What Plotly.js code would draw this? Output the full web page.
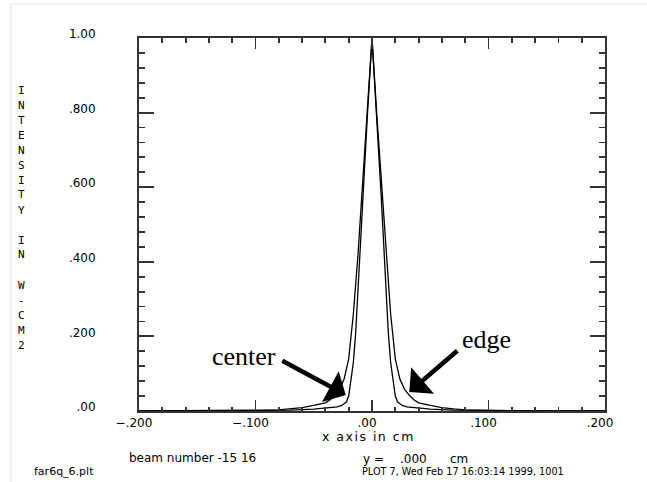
<!DOCTYPE html>
<html>
<head>
<meta charset="utf-8">
<script src="https://cdn.plot.ly/plotly-3.0.1.min.js"></script>
<style>
html,body{margin:0;padding:0;background:#fff;}
#chart{width:647px;height:482px;}
</style>
</head>
<body>
<div id="chart"></div>
<script>
// ---- data ----
const xEdge = [-0.200,-0.150,-0.120,-0.100,-0.080,-0.070,-0.060,-0.050,-0.040,-0.036,-0.032,-0.028,-0.024,-0.020,-0.016,-0.012,-0.008,-0.004,0.000,0.004,0.008,0.012,0.016,0.020,0.024,0.028,0.032,0.036,0.040,0.050,0.060,0.070,0.080,0.100,0.120,0.150,0.200];
const yEdge = [0.0001,0.0003,0.0008,0.0015,0.0032,0.0055,0.009,0.015,0.022,0.030,0.042,0.058,0.085,0.14,0.26,0.42,0.61,0.80,1.00,0.80,0.61,0.42,0.26,0.14,0.085,0.058,0.042,0.030,0.022,0.015,0.009,0.0055,0.0032,0.0015,0.0008,0.0003,0.0001];

const xCenter = [-0.200,-0.150,-0.100,-0.070,-0.050,-0.040,-0.030,-0.026,-0.022,-0.020,-0.018,-0.016,-0.014,-0.012,-0.008,-0.004,0.000,0.004,0.008,0.012,0.014,0.016,0.018,0.020,0.022,0.026,0.030,0.040,0.050,0.070,0.100,0.150,0.200];
const yCenter = [0.0001,0.0004,0.001,0.0025,0.005,0.007,0.011,0.015,0.024,0.04,0.08,0.13,0.21,0.33,0.57,0.79,1.00,0.79,0.57,0.33,0.21,0.13,0.08,0.04,0.024,0.015,0.011,0.007,0.005,0.0025,0.001,0.0004,0.0001];

const xTickVals = [-0.2,-0.1,0,0.1,0.2];
const xTickText = ['\u2212.200','\u2212.100','.00','.100','.200'];
const yTickVals = [0,0.2,0.4,0.6,0.8,1.0];
const yTickText = ['.00','.200','.400','.600','.800','1.00'];

const yTitleLetters = 'INTENSITY IN W-CM2'.split('');
const xTitle = 'x axis in cm';
const beamText = 'beam number -15 16';
const fileText = 'far6q_6.plt';
const yEqText = 'y =';
const yValText = '.000';
const unitText = 'cm';
const plotText = 'PLOT 7, Wed Feb 17 16:03:14 1999, 1001';
const labelCenter = 'center';
const labelEdge = 'edge';

// ---- layout helpers (pixel -> paper) ----
const L = 139, R = 42, T = 38, B = 71, W = 647, H = 482;
const pw = W - L - R, ph = H - T - B;
const px = v => (v - L) / pw;
const py = v => (H - B - v) / ph;

const sans = 'DejaVu Sans, sans-serif';
const mono = 'DejaVu Sans Mono, monospace';
const serif = 'Liberation Serif, Times New Roman, serif';

const traces = [
  {x: xCenter, y: yCenter, type: 'scatter', mode: 'lines', name: labelCenter,
   line: {color: '#000', width: 1.3}, hoverinfo: 'skip'},
  {x: xEdge, y: yEdge, type: 'scatter', mode: 'lines', name: labelEdge,
   line: {color: '#000', width: 1.3}, hoverinfo: 'skip'}
];

const annotations = [];
yTitleLetters.forEach((ch, i) => {
  if (ch === ' ') return;
  annotations.push({xref: 'paper', yref: 'paper', x: px(16), y: py(90 + 15 * i),
    xanchor: 'left', yanchor: 'middle', text: ch, showarrow: false,
    font: {family: mono, size: 11, color: '#000'}});
});
function txt(t, x, y, size, anchor, fam) {
  annotations.push({xref: 'paper', yref: 'paper', x: px(x), y: py(y), xanchor: anchor || 'left',
    yanchor: 'middle', text: t, showarrow: false, borderpad: 0,
    font: {family: fam || sans, size: size, color: '#000'}});
}
txt(xTitle, 368, 436, 12.5, 'center');
txt(beamText, 128, 458, 12, 'left');
txt(fileText, 33, 471, 11, 'left');
txt(yEqText, 362, 459, 12, 'left');
txt(yValText, 399, 459, 12, 'left');
txt(unitText, 449, 459, 12, 'left');
txt(plotText, 361, 472, 9.7, 'left');
txt(labelCenter, 244, 356, 26, 'center', serif);
txt(labelEdge, 486, 339, 26, 'center', serif);

// arrows
annotations.push({xref: 'x', yref: 'y', axref: 'x', ayref: 'y',
  x: -0.0225, y: 0.043, ax: -0.0783, ay: 0.137, text: '', showarrow: true,
  arrowhead: 1, arrowsize: 1.3, arrowwidth: 4.5, arrowcolor: '#000', standoff: 0});
annotations.push({xref: 'x', yref: 'y', axref: 'x', ayref: 'y',
  x: 0.032, y: 0.051, ax: 0.0745, ay: 0.165, text: '', showarrow: true,
  arrowhead: 1, arrowsize: 1.3, arrowwidth: 4.5, arrowcolor: '#000', standoff: 0});

const axisCommon = {
  showgrid: false, zeroline: false, showline: true, linecolor: '#333', linewidth: 2,
  mirror: 'ticks', ticks: 'inside', tickcolor: '#333', tickwidth: 1.8,
  tickmode: 'array', tickfont: {family: sans, size: 12, color: '#000'}, fixedrange: true
};

const layout = {
  width: W, height: H,
  margin: {l: L, r: R, t: T, b: B, pad: 0},
  paper_bgcolor: '#fff', plot_bgcolor: '#fff',
  showlegend: false,
  xaxis: Object.assign({}, axisCommon, {
    range: [-0.2, 0.2], tickvals: xTickVals, ticktext: xTickText, ticklen: 11,
    minor: {tick0: 0, dtick: 0.02, ticks: 'inside', ticklen: 4.5, tickwidth: 1.8, tickcolor: '#333'},
    ticklabelshift: -5
  }),
  yaxis: Object.assign({}, axisCommon, {
    range: [0, 1.0], tickvals: yTickVals, ticktext: yTickText, ticklen: 15,
    minor: {tick0: 0, dtick: 0.04, ticks: 'inside', ticklen: 6, tickwidth: 1.8, tickcolor: '#333'},
    ticklabelstandoff: 39, ticklabelshift: -4
  }),
  annotations: annotations,
  shapes: [
    {type: 'line', xref: 'paper', yref: 'paper', x0: px(11), x1: px(11), y0: py(4), y1: py(482), line: {color: '#e6e6e6', width: 1}},
    {type: 'line', xref: 'paper', yref: 'paper', x0: px(11), x1: px(647), y0: py(4), y1: py(4), line: {color: '#e6e6e6', width: 1}}
  ]
};

Plotly.newPlot('chart', traces, layout, {displayModeBar: false, staticPlot: true}).then(() => {
  document.querySelectorAll('.annotation-text').forEach(el => {
    if (el.textContent === xTitle) el.style.letterSpacing = '1.5px';
  });
});
</script>
</body>
</html>
